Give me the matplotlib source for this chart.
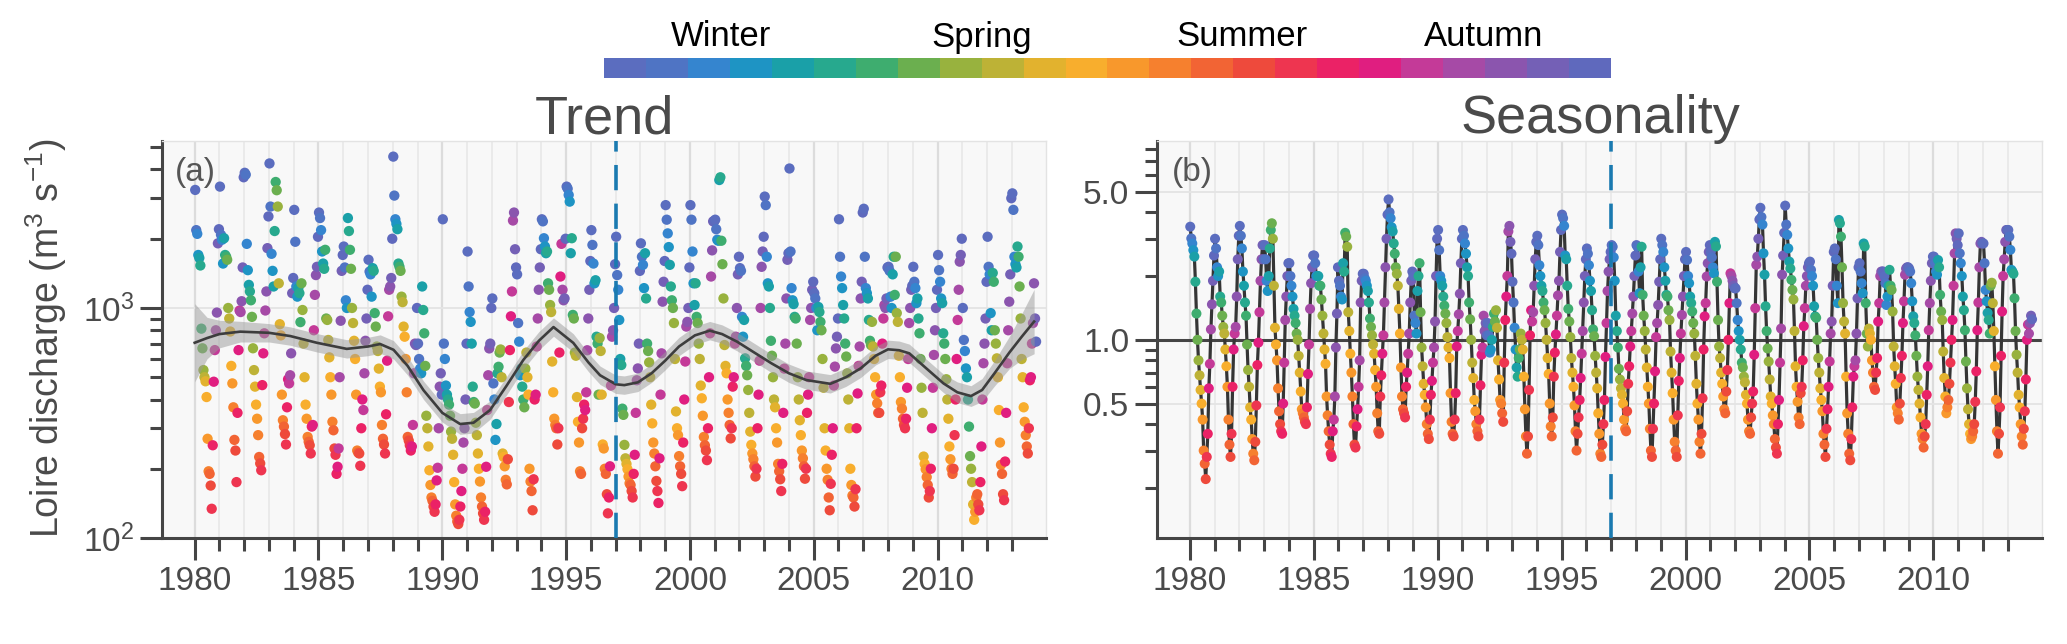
import numpy as np
import matplotlib
matplotlib.use('Agg')
import matplotlib.pyplot as plt
from matplotlib.colors import ListedColormap

plt.rcParams['font.family'] = ['Liberation Sans', 'DejaVu Sans']
plt.rcParams['mathtext.fontset'] = 'custom'
plt.rcParams['mathtext.rm'] = 'Liberation Sans'
plt.rcParams['mathtext.it'] = 'Liberation Sans:italic'

years = list(range(1980, 2014))
season_names = ['Winter', 'Spring', 'Summer', 'Autumn']
season_colors = ['#5b6dbf', '#4f74c4', '#3585cf', '#1e94c4', '#1aa0a8', '#27a98e',
                 '#3ead6f', '#6baf4f', '#98b23e', '#bdb236', '#e2b22e', '#f8ae2d',
                 '#f8982c', '#f6802e', '#f26434', '#ee4a3c', '#ee3550', '#eb2266',
                 '#e01e80', '#c43a98', '#a64aa6', '#8b55ae', '#7460b6', '#5f69bd']

# 24 values per year (half-monthly), m3/s
discharge = [
    3260, 2180, 2100, 1700, 1650, 1530, 813, 668, 537, 500, 480, 410, 270, 195, 190, 169, 134, 253, 478, 656, 800, 955, 1910, 2200,
    3370, 2080, 1980, 1560, 2010, 1700, 1670, 1620, 1000, 900, 790, 560, 470, 370, 267, 240, 175, 350, 656, 975, 960, 1070, 1500, 3700,
    3870, 3800, 1900, 1460, 1260, 1180, 1080, 915, 668, 537, 455, 380, 330, 280, 225, 211, 197, 462, 635, 776, 975, 1180, 1820, 2500,
    4250, 2760, 1720, 1450, 1240, 2160, 3530, 3250, 2760, 1280, 850, 760, 420, 325, 305, 283, 255, 370, 490, 470, 510, 635, 1160, 1350,
    2670, 1940, 1240, 1120, 1220, 1160, 868, 1280, 980, 700, 500, 380, 330, 275, 262, 253, 233, 305, 310, 800, 1140, 1390, 1510, 2040,
    2600, 2460, 2180, 1760, 1560, 1480, 1790, 900, 887, 726, 610, 500, 420, 320, 294, 245, 230, 190, 204, 245, 500, 880, 1450, 1700,
    1850, 1500, 1080, 1000, 2460, 2160, 1790, 1480, 1000, 860, 720, 600, 420, 240, 235, 233, 206, 300, 400, 360, 520, 720, 900, 1200,
    1620, 1440, 1400, 1120, 1490, 1450, 950, 830, 680, 650, 545, 455, 430, 310, 270, 255, 233, 345, 590, 920, 1200, 1240, 1350, 2000,
    4550, 3080, 2430, 2320, 2200, 1560, 1510, 1450, 1120, 1060, 830, 750, 600, 430, 275, 265, 253, 240, 250, 310, 520, 700, 690, 1000,
    700, 600, 545, 520, 1240, 980, 776, 560, 340, 300, 250, 197, 170, 150, 145, 137, 130, 140, 178, 202, 300, 455, 520, 420,
    2430, 700, 600, 460, 420, 400, 380, 340, 290, 270, 230, 175, 140, 125, 118, 115, 120, 137, 160, 200, 260, 300, 400, 700,
    1760, 1240, 960, 870, 700, 455, 390, 384, 317, 280, 233, 200, 176, 150, 137, 128, 120, 130, 204, 360, 510, 667, 700, 1000,
    1100, 470, 400, 267, 313, 520, 555, 640, 660, 500, 233, 225, 205, 179, 171, 220, 390, 656, 920, 1180, 2400, 2600, 1800, 1500,
    1400, 860, 714, 510, 545, 455, 400, 370, 545, 640, 500, 420, 200, 176, 160, 132, 180, 400, 420, 680, 900, 1200, 1500, 1800,
    2430, 2380, 2010, 1850, 1730, 1760, 1280, 1200, 1030, 960, 585, 430, 330, 310, 300, 255, 300, 640, 1370, 1900, 1200, 1080, 1100, 2000,
    3370, 3300, 3100, 2900, 1730, 2010, 933, 900, 640, 620, 410, 320, 260, 195, 190, 300, 330, 380, 360, 430, 655, 900, 1200, 1600,
    2180, 1880, 1560, 1280, 1320, 750, 700, 420, 740, 650, 420, 255, 245, 200, 190, 155, 128, 150, 205, 460, 750, 800, 1000, 1550,
    2040, 1390, 1200, 887, 600, 565, 365, 343, 254, 222, 210, 199, 185, 173, 170, 160, 150, 190, 230, 350, 485, 546, 700, 1450,
    1910, 1670, 1540, 1220, 1730, 1100, 700, 650, 580, 500, 380, 315, 260, 233, 205, 177, 160, 142, 222, 420, 635, 1065, 1300, 1600,
    2800, 2420, 2110, 1840, 1540, 1240, 1080, 1000, 860, 600, 355, 300, 280, 227, 205, 190, 168, 260, 400, 585, 830, 870, 1000, 1500,
    2800, 2420, 1760, 1280, 1030, 1280, 915, 860, 700, 600, 460, 405, 340, 275, 253, 240, 218, 300, 500, 776, 1370, 1780, 2380, 2380,
    2420, 2200, 1980, 1960, 3600, 3700, 1960, 1550, 1100, 690, 560, 520, 400, 350, 310, 271, 300, 455, 500, 700, 750, 1000, 1400, 1670,
    1490, 1450, 915, 750, 887, 604, 560, 510, 440, 350, 290, 254, 233, 220, 205, 185, 200, 300, 420, 590, 1000, 1510, 1760, 2040,
    3050, 2800, 1670, 1280, 1240, 1000, 720, 620, 500, 400, 370, 300, 260, 210, 195, 180, 160, 210, 350, 545, 700, 1100, 1620, 1730,
    4040, 1760, 1220, 1080, 1040, 915, 900, 700, 500, 400, 325, 280, 240, 222, 205, 181, 200, 350, 420, 500, 887, 1000, 1200, 1300,
    1160, 1100, 1000, 800, 1010, 960, 870, 800, 600, 450, 300, 240, 200, 179, 150, 132, 172, 230, 300, 460, 556, 667, 750, 900,
    2430, 1670, 1370, 1220, 1030, 900, 700, 615, 520, 400, 300, 200, 170, 153, 150, 137, 163, 300, 425, 560, 680, 1100, 1300, 2600,
    2700, 1670, 1220, 1160, 1100, 887, 720, 690, 870, 680, 600, 500, 420, 385, 350, 350, 430, 460, 700, 900, 1030, 1000, 1100, 1500,
    1510, 1450, 1120, 1000, 1400, 1670, 1140, 1670, 950, 870, 620, 500, 390, 365, 330, 310, 300, 330, 450, 600, 860, 1000, 1200, 1250,
    1510, 1300, 1220, 1050, 1100, 900, 776, 600, 450, 350, 226, 210, 199, 184, 170, 150, 160, 200, 300, 450, 625, 800, 1000, 1200,
    1700, 1460, 1300, 1100, 1050, 776, 700, 600, 490, 400, 330, 250, 220, 200, 190, 200, 280, 400, 600, 887, 1200, 1590, 1700, 2000,
    1000, 726, 650, 546, 500, 400, 305, 227, 200, 175, 140, 120, 130, 150, 155, 140, 132, 175, 250, 400, 575, 700, 900, 1300,
    2040, 1510, 1400, 950, 800, 1420, 1300, 800, 700, 604, 500, 360, 260, 208, 190, 155, 146, 215, 350, 575, 800, 1065, 1400, 3000,
    3150, 2670, 1670, 1550, 1500, 1850, 1670, 1240, 900, 600, 500, 370, 320, 280, 250, 233, 300, 485, 500, 700, 860, 1280, 900, 714,
]

seasonality = [
    3.42, 3.01, 2.85, 2.65, 2.47, 1.88, 1.33, 1.0, 0.80, 0.68, 0.58, 0.50, 0.42, 0.30, 0.26, 0.22, 0.28, 0.36, 0.59, 0.77, 1.12, 1.47, 1.9, 2.5,
    3.0, 2.7, 2.2, 2.0, 2.1, 1.6, 1.5, 1.3, 1.15, 1.07, 0.9, 0.75, 0.6, 0.42, 0.32, 0.28, 0.36, 0.6, 0.9, 1.07, 1.15, 1.6, 2.4, 3.1,
    3.45, 3.1, 2.7, 2.1, 1.8, 1.5, 1.3, 0.95, 0.72, 0.6, 0.48, 0.42, 0.34, 0.29, 0.27, 0.33, 0.49, 0.76, 0.97, 1.35, 1.9, 2.4, 2.8, 2.4,
    2.8, 2.4, 1.9, 1.7, 2.0, 2.7, 3.3, 3.55, 3.0, 1.8, 1.14, 0.95, 0.8, 0.59, 0.46, 0.40, 0.37, 0.36, 0.5, 0.78, 1.24, 1.6, 2.0, 2.3,
    2.3, 2.0, 1.8, 1.6, 1.4, 1.3, 1.2, 1.07, 1.0, 0.84, 0.7, 0.57, 0.47, 0.45, 0.43, 0.41, 0.40, 0.48, 0.69, 0.95, 1.4, 1.85, 2.2, 2.5,
    2.5, 2.3, 2.0, 2.0, 2.0, 1.8, 1.8, 1.55, 1.3, 1.07, 0.9, 0.77, 0.54, 0.44, 0.37, 0.32, 0.29, 0.28, 0.37, 0.42, 0.54, 0.92, 1.33, 2.2,
    1.9, 1.8, 1.6, 1.55, 2.3, 2.1, 3.2, 3.07, 2.75, 1.35, 1.1, 0.86, 0.7, 0.54, 0.40, 0.32, 0.31, 0.39, 0.47, 0.6, 0.8, 1.5, 1.9, 2.05,
    2.05, 1.95, 1.9, 1.8, 1.7, 1.5, 1.26, 1.15, 1.05, 0.95, 0.86, 0.72, 0.6, 0.45, 0.37, 0.36, 0.54, 0.68, 0.86, 1.05, 1.5, 2.2, 3.0, 3.9,
    4.6, 4.0, 3.75, 3.4, 3.25, 2.85, 2.55, 2.2, 2.05, 1.8, 1.4, 1.07, 0.74, 0.54, 0.47, 0.45, 0.43, 0.6, 0.7, 0.86, 1.07, 1.5, 1.9, 2.1,
    2.0, 1.3, 1.2, 1.07, 1.7, 2.0, 2.3, 1.35, 0.92, 0.75, 0.62, 0.55, 0.48, 0.40, 0.36, 0.34, 0.42, 0.55, 0.64, 0.78, 0.92, 1.22, 2.0, 3.0,
    3.3, 2.65, 2.0, 1.9, 1.8, 1.6, 1.45, 1.33, 1.2, 1.03, 0.92, 0.82, 0.56, 0.41, 0.36, 0.35, 0.42, 0.56, 0.93, 1.1, 1.32, 1.65, 2.3, 3.0,
    3.3, 3.1, 2.85, 2.55, 2.2, 2.0, 1.5, 1.25, 1.0, 0.78, 0.66, 0.52, 0.46, 0.40, 0.37, 0.35, 0.42, 0.61, 0.85, 0.92, 1.3, 1.1, 1.2, 1.05,
    1.2, 1.05, 0.87, 0.9, 1.0, 1.15, 1.33, 1.22, 1.38, 1.14, 0.8, 0.65, 0.52, 0.5, 0.45, 0.41, 0.78, 1.24, 1.6, 2.0, 3.25, 3.45, 2.9, 2.55,
    1.88, 1.5, 1.14, 0.9, 0.74, 0.67, 0.82, 0.9, 1.07, 1.0, 0.9, 0.67, 0.47, 0.35, 0.29, 0.35, 0.58, 1.05, 1.38, 1.22, 1.35, 1.8, 2.4, 2.9,
    3.1, 2.8, 2.25, 2.0, 1.8, 1.7, 1.5, 1.38, 1.2, 1.0, 0.82, 0.69, 0.5, 0.39, 0.35, 0.43, 0.67, 0.87, 1.06, 1.3, 1.62, 1.9, 2.6, 3.3,
    3.9, 3.75, 3.45, 2.5, 2.4, 1.8, 1.4, 1.22, 1.03, 0.82, 0.7, 0.6, 0.49, 0.37, 0.30, 0.36, 0.43, 0.52, 0.66, 0.86, 1.1, 1.5, 2.0, 2.4,
    2.7, 2.55, 2.25, 1.9, 1.7, 1.38, 1.12, 1.04, 0.84, 0.7, 0.59, 0.45, 0.36, 0.29, 0.28, 0.32, 0.40, 0.52, 0.83, 1.2, 1.7, 2.1, 2.4, 2.6,
    2.8, 2.75, 2.45, 1.9, 1.3, 1.1, 0.92, 0.73, 0.65, 0.59, 0.55, 0.5, 0.42, 0.38, 0.37, 0.46, 0.62, 0.75, 0.93, 1.1, 1.33, 1.6, 2.0, 2.5,
    2.8, 2.75, 2.1, 1.66, 2.2, 2.75, 1.63, 1.3, 1.1, 0.9, 0.74, 0.6, 0.5, 0.38, 0.30, 0.28, 0.38, 0.5, 0.71, 1.03, 1.2, 1.46, 1.88, 2.4,
    3.0, 2.8, 2.6, 2.2, 1.9, 1.63, 1.6, 1.38, 1.24, 0.88, 0.7, 0.56, 0.42, 0.33, 0.30, 0.28, 0.44, 0.64, 0.82, 1.07, 1.31, 1.6, 2.0, 2.4,
    2.6, 2.38, 2.0, 1.85, 1.6, 1.49, 1.36, 1.2, 1.07, 0.84, 0.62, 0.5, 0.42, 0.33, 0.29, 0.36, 0.53, 0.9, 1.29, 1.49, 1.99, 2.3, 2.6, 2.8,
    2.6, 2.45, 2.2, 2.06, 2.9, 2.76, 1.88, 1.24, 0.93, 0.82, 0.7, 0.62, 0.54, 0.47, 0.45, 0.57, 0.72, 1.0, 1.49, 2.06, 2.0, 1.9, 1.8, 1.75,
    1.75, 1.49, 1.24, 1.1, 1.0, 0.9, 0.78, 0.74, 0.67, 0.63, 0.55, 0.5, 0.42, 0.37, 0.36, 0.43, 0.5, 0.57, 0.85, 1.41, 2.26, 2.47, 3.0, 3.7,
    4.2, 3.8, 3.5, 2.56, 2.03, 1.44, 1.1, 0.91, 0.79, 0.65, 0.54, 0.5, 0.44, 0.4, 0.34, 0.31, 0.29, 0.4, 0.52, 0.78, 1.13, 2.03, 2.5, 3.2,
    4.3, 3.5, 3.13, 2.7, 2.34, 2.17, 1.92, 1.72, 1.55, 1.1, 0.75, 0.6, 0.51, 0.43, 0.40, 0.56, 0.6, 0.8, 1.16, 1.41, 1.8, 2.0, 2.2, 2.3,
    2.34, 2.14, 2.0, 1.8, 1.44, 1.29, 1.27, 1.0, 0.82, 0.7, 0.59, 0.52, 0.46, 0.36, 0.32, 0.28, 0.38, 0.47, 0.6, 0.79, 1.07, 1.22, 1.8, 2.6,
    2.7, 2.4, 1.8, 1.49, 3.68, 3.55, 3.07, 2.2, 1.49, 1.22, 1.07, 0.67, 0.45, 0.36, 0.29, 0.27, 0.34, 0.48, 0.67, 0.75, 0.8, 1.07, 1.57, 2.2,
    2.3, 2.1, 1.85, 1.66, 2.85, 2.76, 1.49, 1.07, 0.93, 1.13, 1.07, 1.0, 0.8, 0.7, 0.6, 0.58, 0.7, 0.82, 1.22, 1.49, 2.0, 2.1, 2.1, 2.1,
    2.0, 1.85, 1.46, 1.6, 1.8, 2.14, 1.8, 1.72, 1.36, 0.93, 0.75, 0.62, 0.48, 0.45, 0.42, 0.5, 0.66, 0.84, 1.2, 1.52, 2.03, 2.17, 2.2, 2.2,
    2.17, 2.1, 1.85, 1.52, 1.29, 1.2, 1.05, 0.84, 0.67, 0.58, 0.5, 0.43, 0.36, 0.34, 0.31, 0.35, 0.4, 0.55, 0.75, 1.11, 1.49, 1.9, 2.3, 2.47,
    2.47, 2.3, 2.1, 2.03, 2.38, 2.2, 1.63, 1.36, 1.24, 0.88, 0.66, 0.54, 0.45, 0.48, 0.52, 0.62, 0.78, 1.0, 1.24, 1.8, 2.56, 3.18, 3.0, 2.8,
    3.18, 2.56, 2.3, 2.0, 1.6, 1.38, 1.11, 0.79, 0.59, 0.47, 0.4, 0.36, 0.34, 0.35, 0.37, 0.4, 0.51, 0.71, 1.11, 1.5, 2.2, 2.85, 2.9, 2.85,
    2.85, 2.3, 1.72, 1.52, 1.34, 1.24, 1.07, 1.8, 1.86, 1.49, 1.1, 0.75, 0.52, 0.37, 0.29, 0.36, 0.48, 0.84, 1.36, 2.0, 2.4, 2.9, 3.3, 3.3,
    3.3, 3.07, 2.66, 2.14, 2.1, 2.05, 1.57, 1.1, 0.85, 0.7, 0.55, 0.48, 0.4, 0.35, 0.32, 0.38, 0.46, 0.65, 1.0, 1.18, 1.07, 1.2, 1.3, 1.25,
]

# smoothed trend (loess) and its band half-width in log10 units
trend_year = [1980.0, 1980.5, 1981.0, 1981.84, 1983.0, 1983.86, 1984.93, 1986.14, 1987.0, 1987.49,
              1988.03, 1988.6, 1989.24, 1990.0, 1990.72, 1991.26, 1991.93, 1992.6, 1993.27, 1993.9,
              1994.49, 1995.29, 1995.9, 1996.37, 1997.0, 1997.35, 1997.9, 1998.45, 1999.0, 1999.56,
              2000.2, 2000.8, 2001.3, 2001.9, 2002.6, 2003.3, 2004.0, 2004.7, 2005.67, 2006.3,
              2006.9, 2007.5, 2008.0, 2008.45, 2008.86, 2009.6, 2010.24, 2010.8, 2011.35, 2011.8,
              2012.3, 2012.9, 2013.4, 2013.9]
trend_val = [706, 740, 770, 789, 780, 755, 706, 664, 680, 697,
             658, 560, 439, 350, 313, 317, 360, 460, 594, 720,
             826, 705, 580, 510, 466, 462, 475, 520, 590, 680,
             760, 797, 770, 714, 640, 574, 520, 486, 468, 500,
             547, 620, 661, 655, 635, 540, 470, 430, 414, 440,
             520, 640, 750, 873]
trend_se = [0.17, 0.09, 0.06, 0.045, 0.04, 0.04, 0.04, 0.04, 0.04, 0.04,
            0.04, 0.04, 0.04, 0.04, 0.045, 0.045, 0.04, 0.04, 0.04, 0.04,
            0.04, 0.04, 0.04, 0.04, 0.04, 0.04, 0.04, 0.04, 0.04, 0.04,
            0.04, 0.04, 0.04, 0.04, 0.04, 0.04, 0.04, 0.04, 0.04, 0.04,
            0.04, 0.04, 0.04, 0.04, 0.04, 0.04, 0.04, 0.045, 0.045, 0.05,
            0.055, 0.07, 0.1, 0.14]

n = len(season_colors)
t = np.array([y + (i + 0.5) / n for y in years for i in range(n)])
cols = [season_colors[i] for y in years for i in range(n)]

W, H = 2067, 644
fig = plt.figure(figsize=(W / 100, H / 100), dpi=100)
ax1 = fig.add_axes([162 / W, 1 - 538 / H, 884 / W, 397 / H])
ax2 = fig.add_axes([1157 / W, 1 - 538 / H, 885 / W, 397 / H])
cax = fig.add_axes([604 / W, 1 - 78 / H, 1007 / W, 20 / H])

dark = '#454545'
txt = '#4a4a4a'


def style(ax):
    ax.set_facecolor('#f8f8f8')
    for s in ['top', 'right']:
        ax.spines[s].set_color('#e3e3e3')
        ax.spines[s].set_linewidth(1)
    for s in ['left', 'bottom']:
        ax.spines[s].set_color(dark)
        ax.spines[s].set_linewidth(2.2)
    ax.set_xlim(1978.68, 2014.38)
    ax.set_xticks(range(1980, 2011, 5))
    ax.set_xticks(range(1980, 2014), minor=True)
    ax.set_yscale('log')
    ax.tick_params(which='major', length=16, width=2.2, color=dark,
                   labelsize=24, labelcolor=txt, pad=4)
    ax.tick_params(which='minor', length=9, width=2.2, color=dark)
    ax.grid(axis='x', which='minor', color='#e9e9e9', lw=1.3)
    ax.grid(axis='x', which='major', color='#dcdcdc', lw=1.6)
    ax.grid(axis='y', which='major', color='#e4e4e4', lw=1.3)
    ax.set_axisbelow(True)
    ax.axvline(1997, color='#1a7ab0', lw=2.6, dashes=(7, 3.7), zorder=6)


# Trend panel
style(ax1)
ax1.scatter(t, discharge, c=cols, s=55, linewidths=0, zorder=3)
tv = np.array(trend_val, dtype=float)
se = np.array(trend_se)
ax1.fill_between(trend_year, tv / 10 ** se, tv * 10 ** se, color='#9a9a9a', alpha=0.5, lw=0, zorder=4)
ax1.plot(trend_year, trend_val, color='#3d3d3d', lw=1.9, zorder=5)
ax1.set_ylim(100, 5320)
ax1.set_yticks([100, 1000])
ax1.set_yticklabels([r'$10^{2}$', r'$10^{3}$'])
ax1.set_yticks([200, 300, 400, 500, 600, 700, 800, 900, 2000, 3000, 4000, 5000], minor=True)
ax1.set_yticklabels([], minor=True)
ax1.text(0.014, 0.96, '(a)', transform=ax1.transAxes, fontsize=24, color='#555555', va='top', ha='left')

# Seasonality panel
style(ax2)
ax2.axhline(1.0, color=dark, lw=2.2, zorder=2.5)
ax2.plot(t, seasonality, color='#353535', lw=2.3, zorder=3)
ax2.scatter(t, seasonality, c=cols, s=52, linewidths=0, zorder=4)
ax2.set_ylim(0.116, 8.68)
ax2.set_yticks([0.5, 1.0, 5.0])
ax2.set_yticklabels(['0.5', '1.0', '5.0'])
ax2.set_yticks([0.2, 0.3, 0.4, 0.6, 0.7, 0.8, 0.9, 2, 3, 4, 6, 7, 8], minor=True)
ax2.set_yticklabels([], minor=True)
ax2.text(0.017, 0.96, '(b)', transform=ax2.transAxes, fontsize=24, color='#555555', va='top', ha='left')

fig.text(604 / W, 1 - 133 / H, 'Trend', fontsize=39, color=txt, ha='center', va='baseline')
fig.text(1600 / W, 1 - 133 / H, 'Seasonality', fontsize=39, color=txt, ha='center', va='baseline')
fig.text(46 / W, 1 - 338 / H, r'Loire discharge (m$^{3}$ s$^{-1}$)', fontsize=27, color=txt,
         rotation=90, ha='center', va='center')

# season colour strip
cax.imshow(np.arange(n)[None, :], cmap=ListedColormap(season_colors), aspect='auto',
           extent=[0, n, 0, 1], interpolation='nearest')
cax.set_axis_off()
for name, x in zip(season_names, [721, 982, 1242, 1484]):
    fig.text(x / W, 1 - 37 / H, name, fontsize=25, color='black', ha='center', va='center')

fig.savefig('out.png', dpi=100)
